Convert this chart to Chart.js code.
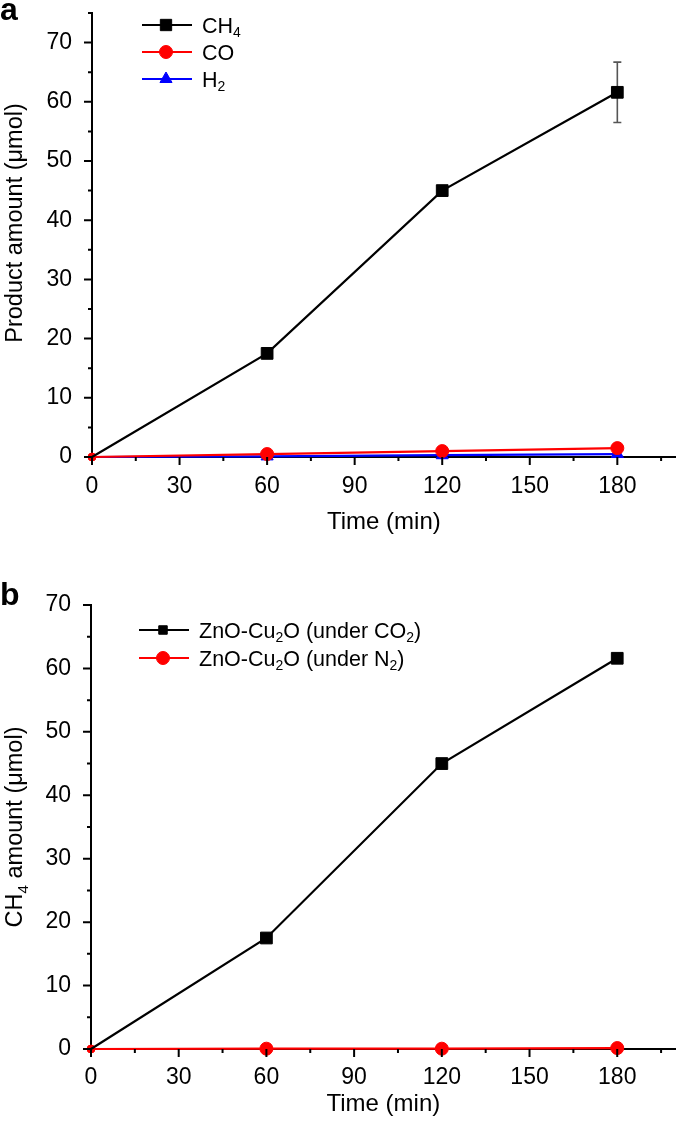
<!DOCTYPE html>
<html>
<head>
<meta charset="utf-8">
<script src="https://cdn.jsdelivr.net/npm/chart.js@4.4.1/dist/chart.umd.min.js"></script>
<style>
  body { margin: 0; background: #fff; width: 685px; height: 1130px; position: relative; overflow: hidden; font-family: 'Liberation Sans', Arial, sans-serif; }
  .wrap { position: absolute; left: 0; width: 685px; }
  .panel { position: absolute; left: 0; font-weight: bold; font-size: 32px; line-height: 32px; color: #000; }
</style>
</head>
<body>
<div class="wrap" style="top:0;height:555px"><canvas id="chartA"></canvas></div>
<div class="wrap" style="top:555px;height:575px"><canvas id="chartB"></canvas></div>
<div class="panel" style="top:-7px">a</div>
<div class="panel" style="top:578px">b</div>
<script>
// sampling times (min)
const times = [0, 60, 120, 180];

// panel a: products
const ch4A = [0, 17.5, 45, 61.6];
const ch4AErr = [0, 0, 0, 5.1];
const coA = [0, 0.5, 1.0, 1.5];
const h2A = [0, 0.1, 0.3, 0.5];

// panel b: CH4 under CO2 / N2
const ch4UnderCO2 = [0, 17.5, 45, 61.6];
const ch4UnderN2 = [0, 0.05, 0.05, 0.15];

// axis ticks
const xTicks = [0, 30, 60, 90, 120, 150, 180];
const xMinor = [15, 45, 75, 105, 135, 165, 195];
const yTicksA = [0, 10, 20, 30, 40, 50, 60, 70];
const yMinorA = [5, 15, 25, 35, 45, 55, 65, 75];
const yTicksB = [0, 10, 20, 30, 40, 50, 60, 70];
const yMinorB = [5, 15, 25, 35, 45, 55, 65];

const FONT = "'Liberation Sans', Arial, sans-serif";
Chart.defaults.font.family = FONT;
Chart.defaults.font.size = 23;
Chart.defaults.color = '#000';

const pts = arr => times.map((t, i) => ({ x: t, y: arr[i] }));

function drawRich(ctx, parts, x, baseY, size) {
  let cx = x;
  parts.forEach(([t, sub]) => {
    const s = sub ? size * 0.65 : size;
    ctx.font = s + 'px ' + FONT;
    ctx.fillText(t, cx, baseY + (sub ? size * 0.22 : 0));
    cx += ctx.measureText(t).width;
  });
  return cx - x;
}
function richWidth(ctx, parts, size) {
  let w = 0;
  parts.forEach(([t, sub]) => {
    ctx.font = (sub ? size * 0.65 : size) + 'px ' + FONT;
    w += ctx.measureText(t).width;
  });
  return w;
}

// minor + major tick marks pointing outward, and the rotated y title
const axisTicks = {
  id: 'axisTicks',
  afterDraw(chart, args, opts) {
    const { ctx, chartArea } = chart;
    const xs = chart.scales.x, ys = chart.scales.y;
    ctx.save();
    ctx.strokeStyle = '#000';
    ctx.lineWidth = 2;
    ctx.beginPath();
    xTicks.concat(xMinor).forEach(v => {
      const len = xTicks.includes(v) ? 8 : 4;
      const px = xs.getPixelForValue(v);
      ctx.moveTo(px, chartArea.bottom);
      ctx.lineTo(px, chartArea.bottom + len);
    });
    opts.yMajor.concat(opts.yMinor).forEach(v => {
      const len = opts.yMajor.includes(v) ? 8 : 4;
      const py = ys.getPixelForValue(v);
      ctx.moveTo(chartArea.left, py);
      ctx.lineTo(chartArea.left - len, py);
    });
    ctx.stroke();
    const size = 23.5;
    ctx.fillStyle = '#000';
    ctx.textBaseline = 'alphabetic';
    ctx.textAlign = 'left';
    ctx.translate(opts.titleX, opts.titleY);
    ctx.rotate(-Math.PI / 2);
    const w = richWidth(ctx, opts.title, size);
    drawRich(ctx, opts.title, -w / 2, size * 0.36, size);
    ctx.restore();
  }
};

// error bars behind markers
const errorBars = {
  id: 'errorBars',
  beforeDatasetsDraw(chart, args, opts) {
    if (!opts.err) return;
    const { ctx } = chart;
    const xs = chart.scales.x, ys = chart.scales.y;
    const vals = chart.data.datasets[opts.ds].data;
    ctx.save();
    ctx.strokeStyle = '#555';
    ctx.lineWidth = 1.6;
    ctx.beginPath();
    opts.err.forEach((e, i) => {
      if (!e) return;
      const px = xs.getPixelForValue(vals[i].x);
      const top = ys.getPixelForValue(vals[i].y + e);
      const bot = ys.getPixelForValue(vals[i].y - e);
      ctx.moveTo(px, top); ctx.lineTo(px, bot);
      ctx.moveTo(px - 4, top); ctx.lineTo(px + 4, top);
      ctx.moveTo(px - 4, bot); ctx.lineTo(px + 4, bot);
    });
    ctx.stroke();
    ctx.restore();
  }
};

// legend with line + marker and subscripts
const richLegend = {
  id: 'richLegend',
  afterDraw(chart, args, opts) {
    const { ctx } = chart;
    const size = 21.5;
    ctx.save();
    opts.items.forEach((it, k) => {
      const ds = chart.data.datasets[it.ds];
      const y = opts.y + k * opts.dy;
      ctx.strokeStyle = ds.borderColor;
      ctx.lineWidth = 2.2;
      ctx.beginPath();
      ctx.moveTo(opts.x - 24, y);
      ctx.lineTo(opts.x + 26, y);
      ctx.stroke();
      ctx.fillStyle = ds.backgroundColor;
      ctx.lineWidth = 1;
      Chart.helpers.drawPoint(ctx, { pointStyle: ds.pointStyle, radius: it.r, rotation: 0, borderWidth: 1 }, opts.x, y);
      ctx.fillStyle = '#000';
      ctx.textBaseline = 'alphabetic';
      ctx.textAlign = 'left';
      drawRich(ctx, it.parts, opts.x + 36, y + size * 0.36, size);
    });
    ctx.restore();
  }
};

function makeScales(yMax, yTicks, tickPad, titlePad, yWidth, xHeight) {
  return {
    x: {
      type: 'linear', min: 0, max: 200,
      border: { color: '#000', width: 2 },
      grid: { display: false, drawTicks: false },
      ticks: { padding: tickPad, color: '#000', font: { size: 23 } },
      afterBuildTicks: s => { s.ticks = xTicks.map(v => ({ value: v })); },
      afterFit: s => { s.height = xHeight; s.paddingLeft = 0; s.paddingRight = 0; },
      title: { display: true, text: 'Time (min)', color: '#000', font: { size: 24 }, padding: { top: 0, bottom: titlePad } }
    },
    y: {
      min: 0, max: yMax,
      border: { color: '#000', width: 2 },
      grid: { display: false, drawTicks: false },
      ticks: { padding: 20, color: '#000', font: { size: 23 } },
      afterBuildTicks: s => { s.ticks = yTicks.map(v => ({ value: v })); },
      afterFit: s => { s.width = yWidth; s.paddingTop = 0; s.paddingBottom = 0; }
    }
  };
}

new Chart(document.getElementById('chartA'), {
  type: 'line',
  data: {
    datasets: [
      { label: 'CH4', data: pts(ch4A), borderColor: '#000', backgroundColor: '#000', pointStyle: 'rect', pointRadius: [0, 8.3, 8.3, 8.3], borderWidth: 2.2, pointBorderWidth: 1, clip: false },
      { label: 'CO', data: pts(coA), borderColor: '#ff0000', backgroundColor: '#ff0000', pointStyle: 'circle', pointRadius: [4, 6.5, 6.5, 6.5], borderWidth: 2.2, pointBorderWidth: 1, clip: false },
      { label: 'H2', data: pts(h2A), borderColor: '#0000ff', backgroundColor: '#0000ff', pointStyle: 'triangle', pointRadius: [4, 7, 7, 7], borderWidth: 2.2, pointBorderWidth: 1, clip: false }
    ]
  },
  options: {
    responsive: true, maintainAspectRatio: false, animation: false,
    layout: { padding: { left: 0, right: 1, top: 13, bottom: 0 } },
    scales: makeScales(75, yTicksA, 16, 18, 92, 98),
    plugins: {
      legend: { display: false }, tooltip: { enabled: false },
      axisTicks: { yMajor: yTicksA, yMinor: yMinorA, titleX: 14, titleY: 223, title: [['Product amount (μmol)', 0]] },
      errorBars: { ds: 0, err: ch4AErr },
      richLegend: { x: 166, y: 25, dy: 27, items: [
        { ds: 0, r: 8, parts: [['CH', 0], ['4', 1]] },
        { ds: 1, r: 6.5, parts: [['CO', 0]] },
        { ds: 2, r: 7, parts: [['H', 0], ['2', 1]] }
      ] }
    }
  },
  plugins: [axisTicks, errorBars, richLegend]
});

new Chart(document.getElementById('chartB'), {
  type: 'line',
  data: {
    datasets: [
      { label: 'ZnO-Cu2O (under CO2)', data: pts(ch4UnderCO2), borderColor: '#000', backgroundColor: '#000', pointStyle: 'rect', pointRadius: [0, 8.3, 8.3, 8.3], borderWidth: 2.2, pointBorderWidth: 1, clip: false },
      { label: 'ZnO-Cu2O (under N2)', data: pts(ch4UnderN2), borderColor: '#ff0000', backgroundColor: '#ff0000', pointStyle: 'circle', pointRadius: [4, 6.5, 6.5, 6.5], borderWidth: 2.2, pointBorderWidth: 1, clip: false }
    ]
  },
  options: {
    responsive: true, maintainAspectRatio: false, animation: false,
    layout: { padding: { left: 0, right: 1, top: 50, bottom: 0 } },
    scales: makeScales(70, yTicksB, 15, 11, 91, 81),
    plugins: {
      legend: { display: false }, tooltip: { enabled: false },
      axisTicks: { yMajor: yTicksB, yMinor: yMinorB, titleX: 14, titleY: 272, title: [['CH', 0], ['4', 1], [' amount (μmol)', 0]] },
      errorBars: { ds: 0, err: null },
      richLegend: { x: 163, y: 75, dy: 28, items: [
        { ds: 0, r: 6, parts: [['ZnO-Cu', 0], ['2', 1], ['O (under CO', 0], ['2', 1], [')', 0]] },
        { ds: 1, r: 6.5, parts: [['ZnO-Cu', 0], ['2', 1], ['O (under N', 0], ['2', 1], [')', 0]] }
      ] }
    }
  },
  plugins: [axisTicks, errorBars, richLegend]
});
</script>
</body>
</html>
